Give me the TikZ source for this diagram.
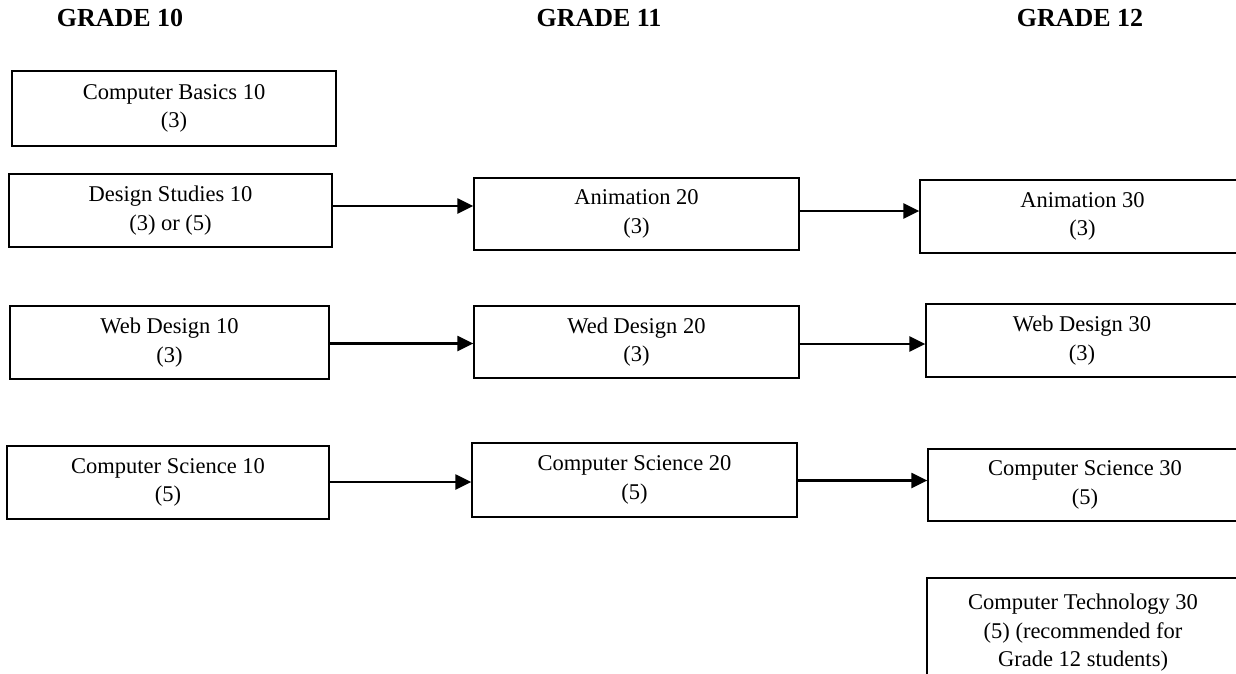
\documentclass[tikz,border=0pt]{standalone}
\usepackage{fontspec}
\setmainfont{Liberation Serif}
\usetikzlibrary{arrows.meta}
\begin{document}
\begin{tikzpicture}[x=1pt,y=-1pt,
  box/.style={draw, line width=1.3pt, align=center, inner sep=0pt,
    font=\fontsize{22.5}{28.5}\selectfont},
  head/.style={anchor=base, inner sep=0pt, font=\fontsize{26}{30}\selectfont\bfseries},
  arr/.style={line width=2.3pt, -{Triangle[length=16pt,width=15pt]}}]
\useasboundingbox (0,0) rectangle (1236,674);
\fill[white] (0,0) rectangle (1236,674);
\clip (0,0) rectangle (1236,674);
% headings
\node[head] (g10) at (120,27) {GRADE 10};
\node[head] (g11) at (599,27) {GRADE 11};
\node[head] (g12) at (1080,27) {GRADE 12};
% grade 10
\node[box, minimum width=324pt, minimum height=75pt] (cb10) at (174,108.5) {Computer Basics 10\\(3)};
\node[box, minimum width=323pt, minimum height=73pt] (ds10) at (170.5,210.5) {Design Studies 10\\(3) or (5)};
\node[box, minimum width=319pt, minimum height=73pt] (wd10) at (169.5,342.5) {Web Design 10\\(3)};
\node[box, minimum width=322pt, minimum height=73pt] (cs10) at (168,482.5) {Computer Science 10\\(5)};
% grade 11
\node[box, minimum width=325pt, minimum height=72pt] (a20) at (636.5,214) {Animation 20\\(3)};
\node[box, minimum width=325pt, minimum height=72pt] (wd20) at (636.5,342) {Wed Design 20\\(3)};
\node[box, minimum width=325pt, minimum height=74pt] (cs20) at (634.5,480) {Computer Science 20\\(5)};
% grade 12
\node[box, minimum width=325pt, minimum height=73pt] (a30) at (1082.5,216.5) {Animation 30\\(3)};
\node[box, minimum width=312pt, minimum height=73pt] (wd30) at (1082,340.5) {Web Design 30\\(3)};
\node[box, minimum width=314pt, minimum height=72pt] (cs30) at (1085,485) {Computer Science 30\\(5)};
\node[box, minimum width=312pt, minimum height=110pt] (ct30) at (1083,633) {Computer Technology 30\\(5) (recommended for\\Grade 12 students)};
% arrows
\draw[arr] (ds10.east |- 0,206) -- (a20.west |- 0,206);
\draw[arr] (a20.east |- 0,211) -- (a30.west |- 0,211);
\draw[arr] (wd10.east |- 0,343.5) -- (wd20.west |- 0,343.5);
\draw[arr] (wd20.east |- 0,344) -- (wd30.west |- 0,344);
\draw[arr] (cs10.east |- 0,482) -- (cs20.west |- 0,482);
\draw[arr] (cs20.east |- 0,480.5) -- (cs30.west |- 0,480.5);
\end{tikzpicture}
\end{document}
